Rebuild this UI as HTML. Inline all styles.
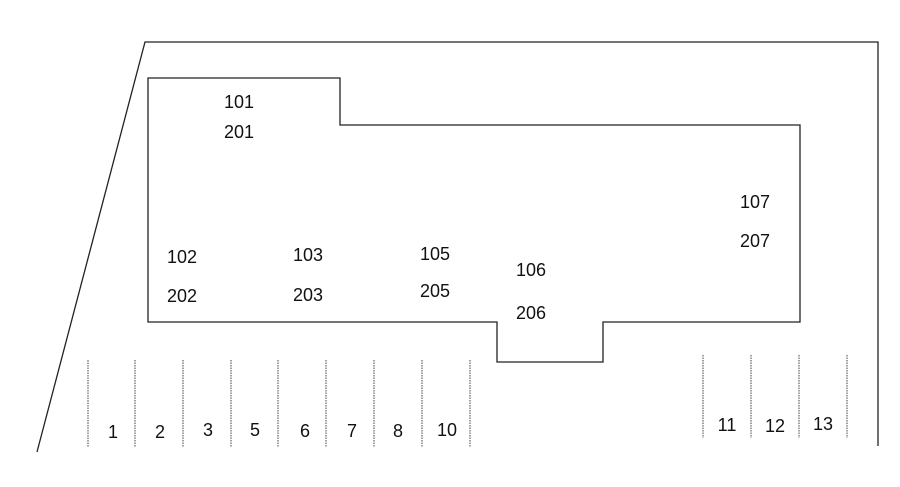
<!DOCTYPE html>
<html><head><style>body{margin:0;background:#fff}</style></head><body>
<svg width="900" height="482" xmlns="http://www.w3.org/2000/svg" font-family="Liberation Sans, sans-serif" font-size="18" fill="#111" text-anchor="middle">
<rect width="900" height="482" fill="#fff"/>
<g stroke="#222" stroke-width="1.3" fill="none">
<polyline points="37,452 145,42 878,42 878,446"/>
<polygon points="148,78 340,78 340,125 800,125 800,322 603,322 603,362 497,362 497,322 148,322"/>
</g>
<g stroke="#444" stroke-width="1" stroke-dasharray="1.5,1">
<line x1="88" y1="360" x2="88" y2="447"/><line x1="135" y1="360" x2="135" y2="447"/>
<line x1="183" y1="360" x2="183" y2="447"/><line x1="231" y1="360" x2="231" y2="447"/>
<line x1="278" y1="360" x2="278" y2="447"/><line x1="326" y1="360" x2="326" y2="447"/>
<line x1="374" y1="360" x2="374" y2="447"/><line x1="422" y1="360" x2="422" y2="447"/>
<line x1="470" y1="360" x2="470" y2="447"/>
<line x1="703" y1="355" x2="703" y2="438"/><line x1="751" y1="355" x2="751" y2="438"/>
<line x1="799" y1="355" x2="799" y2="438"/><line x1="847" y1="355" x2="847" y2="438"/>
</g>
<text x="239" y="108">101</text><text x="239" y="138">201</text>
<text x="182" y="263">102</text><text x="182" y="302">202</text>
<text x="308" y="261">103</text><text x="308" y="301">203</text>
<text x="435" y="260">105</text><text x="435" y="297">205</text>
<text x="531" y="276">106</text><text x="531" y="319">206</text>
<text x="755" y="208">107</text><text x="755" y="247">207</text>
<text x="113" y="438">1</text><text x="160" y="438">2</text><text x="208" y="436">3</text>
<text x="255" y="436">5</text><text x="305" y="437">6</text><text x="352" y="437">7</text>
<text x="398" y="437">8</text><text x="447" y="436">10</text>
<text x="727" y="431">11</text><text x="775" y="432">12</text><text x="823" y="430">13</text>
</svg>
</body></html>
